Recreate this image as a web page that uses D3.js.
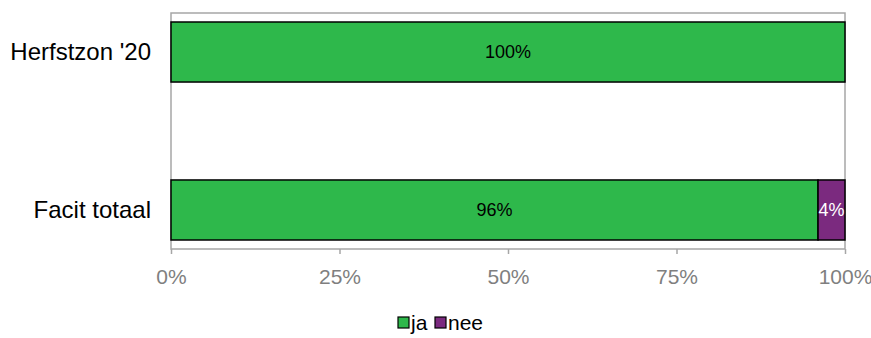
<!DOCTYPE html>
<html><head><meta charset="utf-8">
<script src="https://cdn.jsdelivr.net/npm/d3@7"></script>
<style>body{margin:0;background:#fff}svg{display:block;font-family:"Liberation Sans",Arial,sans-serif}</style>
</head><body><svg id="c" width="871" height="338"></svg>
<script>
const categories = ["Herfstzon '20", "Facit totaal"];
const seriesNames = ["ja", "nee"];
const ja = [100, 96];
const nee = [0, 4];
const tickValues = [0, 25, 50, 75, 100];
const colors = ["#2eb84b", "#7b2a7f"];

const svg = d3.select("#c");
const plot = {left: 171, right: 845, top: 13, bottom: 249};

const x = d3.scaleLinear().domain([0, 100]).range([plot.left, plot.right]);
const y = d3.scaleBand().domain(categories).range([22, 240]).paddingInner(0.62).paddingOuter(0);

// plot area frame
svg.append("rect").attr("x", plot.left).attr("y", plot.top)
  .attr("width", plot.right - plot.left).attr("height", plot.bottom - plot.top)
  .attr("fill", "none").attr("stroke", "#a6a6a6").attr("stroke-width", 1.5);

// value axis ticks and labels
const xAxis = d3.axisBottom(x).tickValues(tickValues).tickSize(5).tickFormat(d => d + "%");
const gx = svg.append("g").attr("transform", `translate(0,${plot.bottom})`).call(xAxis);
gx.select(".domain").remove();
gx.selectAll("line").attr("stroke", "#a6a6a6").attr("stroke-width", 1.5);
gx.selectAll("text").attr("fill", "#7f7f7f").attr("font-size", 21).attr("dy", 0).attr("y", 35)
  .attr("font-family", "Liberation Sans, Arial, sans-serif");

// category labels
svg.append("g").selectAll("text").data(categories).join("text")
  .attr("x", 151).attr("y", d => y(d) + y.bandwidth() / 2)
  .attr("dy", "0.35em").attr("text-anchor", "end")
  .attr("font-size", 24).attr("fill", "#000").text(d => d);

// stacked bars
const rows = categories.map((c, i) => ({cat: c, vals: [ja[i], nee[i]]}));
rows.forEach(r => {
  let acc = 0;
  r.vals.forEach((v, k) => {
    if (v <= 0) return;
    const x0 = acc, x1 = acc + v;
    acc = x1;
    svg.append("rect").attr("x", x(x0)).attr("y", y(r.cat))
      .attr("width", x(x1) - x(x0)).attr("height", y.bandwidth())
      .attr("fill", colors[k]).attr("stroke", "#000").attr("stroke-width", 1.5);
    svg.append("text").attr("x", (x(x0) + x(x1)) / 2).attr("y", y(r.cat) + y.bandwidth() / 2)
      .attr("dy", "0.35em").attr("text-anchor", "middle").attr("font-size", 18)
      .attr("fill", k === 0 ? "#000" : "#fff").text(v + "%");
  });
});

// legend
const legend = svg.append("g");
const items = [{name: seriesNames[0], x: 398}, {name: seriesNames[1], x: 435}];
items.forEach((it, k) => {
  legend.append("rect").attr("x", it.x).attr("y", 317).attr("width", 11).attr("height", 11)
    .attr("fill", colors[k]).attr("stroke", "#000").attr("stroke-width", 1.2);
  legend.append("text").attr("x", it.x + 13).attr("y", 323).attr("dy", "0.35em")
    .attr("font-size", 21).attr("fill", "#000").text(it.name);
});
</script></body></html>
